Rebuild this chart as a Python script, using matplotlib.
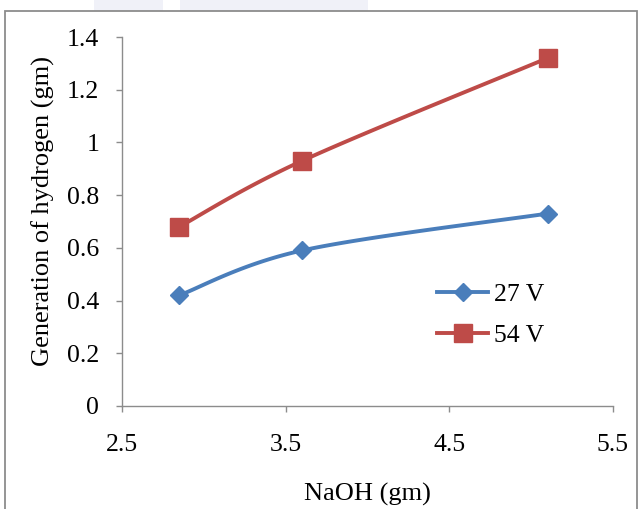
import numpy as np
import matplotlib
matplotlib.use("Agg")
import matplotlib.pyplot as plt
from matplotlib.patches import Rectangle
from matplotlib.lines import Line2D

naoh = [2.85, 3.6, 5.1]
h2_27v = [0.42, 0.59, 0.73]
h2_54v = [0.68, 0.93, 1.32]
series_labels = ["27 V", "54 V"]
xticks = [2.5, 3.5, 4.5, 5.5]
yticks = [0, 0.2, 0.4, 0.6, 0.8, 1.0, 1.2, 1.4]
ytick_labels = ["0", "0.2", "0.4", "0.6", "0.8", "1", "1.2", "1.4"]

plt.rcParams['font.family'] = ['Liberation Serif', 'DejaVu Serif']

def smooth(xs, ys, n=40):
    # Catmull-Rom style Bezier smoothing (like spreadsheet smoothed lines)
    xs = np.asarray(xs, float); ys = np.asarray(ys, float)
    px = np.concatenate([[xs[0]], xs, [xs[-1]]])
    py = np.concatenate([[ys[0]], ys, [ys[-1]]])
    outx, outy = [], []
    t = np.linspace(0, 1, n)
    for i in range(1, len(px) - 2):
        p0 = np.array([px[i], py[i]]); p3 = np.array([px[i+1], py[i+1]])
        c1 = p0 + (np.array([px[i+1], py[i+1]]) - np.array([px[i-1], py[i-1]])) / 6
        c2 = p3 - (np.array([px[i+2], py[i+2]]) - np.array([px[i], py[i]])) / 6
        b = ((1-t)**3)[:, None]*p0 + (3*(1-t)**2*t)[:, None]*c1 + (3*(1-t)*t**2)[:, None]*c2 + (t**3)[:, None]*p3
        outx.extend(b[:, 0]); outy.extend(b[:, 1])
    return outx, outy

W, H = 641, 509
fig = plt.figure(figsize=(W/100, H/100), dpi=100)
# faint watermark shapes above the frame
fig.patches.append(Rectangle((94/W, 1-11/H), 69/W, 11/H, transform=fig.transFigure,
                             facecolor='#F0F1F8', edgecolor='none'))
fig.patches.append(Rectangle((180/W, 1-11/H), 188/W, 11/H, transform=fig.transFigure,
                             facecolor='#F0F1F8', edgecolor='none'))
# chart frame
fig.patches.append(Rectangle((5/W, -0.1), 632/W, 1.1 - 11/H, transform=fig.transFigure,
                             fill=False, edgecolor='#8c8c8c', linewidth=1.3))
ax = fig.add_axes([122/W, 1-406/H, (613-122)/W, (406-37)/H])

blue = '#4A7EBB'
red = '#BE4B48'
lw = 2.8
sx, sy = smooth(naoh, h2_27v)
ax.plot(sx, sy, color=blue, lw=lw, solid_capstyle='round')
ax.plot(naoh, h2_27v, linestyle='none', marker='D', markersize=9, color=blue)
sx, sy = smooth(naoh, h2_54v)
ax.plot(sx, sy, color=red, lw=lw, solid_capstyle='round')
ax.plot(naoh, h2_54v, linestyle='none', marker='s', markersize=13.5, color=red)

ax.set_xlim(2.5, 5.5)
ax.set_ylim(0, 1.4)
ax.set_xticks(xticks)
ax.set_xticklabels([str(v) for v in xticks])
ax.set_yticks(yticks)
ax.set_yticklabels(ytick_labels)
for s in ['top', 'right']:
    ax.spines[s].set_visible(False)
for s in ['left', 'bottom']:
    ax.spines[s].set_color('#8c8c8c')
    ax.spines[s].set_linewidth(1.0)
ax.tick_params(direction='out', length=4.5, width=1.0, color='#8c8c8c', labelsize=18.5)
ax.tick_params(axis='x', pad=16)
ax.tick_params(axis='y', pad=12)
ax.set_xlabel("NaOH (gm)", fontsize=19)
ax.xaxis.set_label_coords(0.5, (406-483)/369)
ax.set_ylabel("Generation of hydrogen (gm)", fontsize=19)
ax.yaxis.set_label_coords((55-122)/491, (406-210.5)/369)

handles = [Line2D([], [], color=blue, lw=lw, marker='D', markersize=9),
           Line2D([], [], color=red, lw=lw, marker='s', markersize=13.5)]
ax.legend(handles, series_labels, loc='center left', bbox_to_anchor=((437-122)/491, (406-315)/369),
          frameon=False, fontsize=18.5, handlelength=2.0, handletextpad=0.2, labelspacing=0.68,
          borderpad=0, borderaxespad=0)

fig.savefig("out.png", dpi=100)
